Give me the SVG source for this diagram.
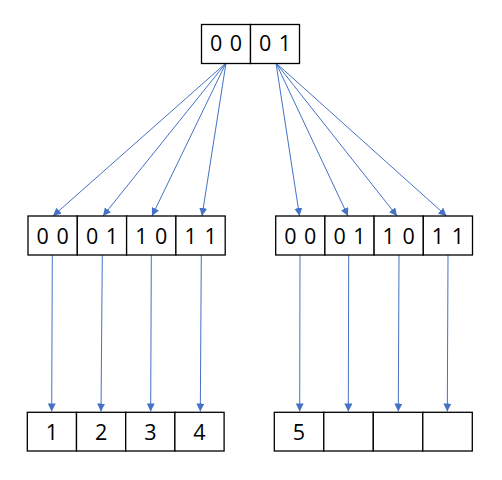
<svg xmlns="http://www.w3.org/2000/svg" width="502" height="480" viewBox="0 0 502 480">
<defs>
<marker id="ah" markerUnits="userSpaceOnUse" markerWidth="8" markerHeight="8" viewBox="0 0 8 8" refX="8" refY="4" orient="auto">
<path d="M0,0 L8,4 L0,8 Z" fill="#4472C4"/>
</marker>
<style>
.cell{fill:#fff;stroke:#000;stroke-width:1.3}
.t{font-family:"Open Sans","Liberation Sans",sans-serif;font-size:21.5px;text-anchor:middle;fill:#000;word-spacing:2px}
.c{stroke:#4472C4;stroke-width:1;fill:none;marker-end:url(#ah)}
</style>
</defs>
<rect width="502" height="480" fill="#fff"/>
<g id="connectors">
<line class="c" x1="226" y1="63" x2="53" y2="216"/>
<line class="c" x1="226" y1="63" x2="103" y2="216"/>
<line class="c" x1="226" y1="63" x2="152" y2="216"/>
<line class="c" x1="226" y1="63" x2="202" y2="216"/>
<line class="c" x1="276" y1="63" x2="299.5" y2="216"/>
<line class="c" x1="276" y1="63" x2="348" y2="216"/>
<line class="c" x1="276" y1="63" x2="397" y2="216"/>
<line class="c" x1="276" y1="63" x2="446.5" y2="216"/>
<line class="c" x1="52.3" y1="255" x2="51.7" y2="411.5"/>
<line class="c" x1="102.3" y1="255" x2="101" y2="411.5"/>
<line class="c" x1="151.3" y1="255" x2="150.7" y2="411.5"/>
<line class="c" x1="201.3" y1="255" x2="200.3" y2="411.5"/>
<line class="c" x1="300" y1="255" x2="299.7" y2="411.5"/>
<line class="c" x1="348.7" y1="255" x2="348.3" y2="411.5"/>
<line class="c" x1="399" y1="255" x2="398.3" y2="411.5"/>
<line class="c" x1="448" y1="255" x2="447.3" y2="411.5"/>
</g>
<g id="root">
<rect class="cell" x="201.5" y="24.5" width="49" height="39"/>
<rect class="cell" x="250.5" y="24.5" width="49" height="39"/>
<text class="t" x="226" y="50.5">0 0</text>
<text class="t" x="275" y="50.5">0 1</text>
</g>
<g id="left-dir">
<rect class="cell" x="28" y="216" width="49.3" height="39"/>
<rect class="cell" x="77.3" y="216" width="49.3" height="39"/>
<rect class="cell" x="126.6" y="216" width="49.3" height="39"/>
<rect class="cell" x="175.9" y="216" width="49.3" height="39"/>
<text class="t" x="52.6" y="243.5">0 0</text>
<text class="t" x="102" y="243.5">0 1</text>
<text class="t" x="151.3" y="243.5">1 0</text>
<text class="t" x="200.6" y="243.5">1 1</text>
</g>
<g id="right-dir">
<rect class="cell" x="275.7" y="216" width="49.2" height="39"/>
<rect class="cell" x="324.9" y="216" width="49.2" height="39"/>
<rect class="cell" x="374.1" y="216" width="49.2" height="39"/>
<rect class="cell" x="423.3" y="216" width="49.2" height="39"/>
<text class="t" x="300.3" y="243.5">0 0</text>
<text class="t" x="349.5" y="243.5">0 1</text>
<text class="t" x="398.7" y="243.5">1 0</text>
<text class="t" x="447.9" y="243.5">1 1</text>
</g>
<g id="left-buckets">
<rect class="cell" x="27.3" y="412.3" width="49.2" height="38.7"/>
<rect class="cell" x="76.5" y="412.3" width="49.2" height="38.7"/>
<rect class="cell" x="125.7" y="412.3" width="49.2" height="38.7"/>
<rect class="cell" x="174.9" y="412.3" width="49.2" height="38.7"/>
<text class="t" x="51.9" y="439.5">1</text>
<text class="t" x="101.1" y="439.5">2</text>
<text class="t" x="150.3" y="439.5">3</text>
<text class="t" x="199.5" y="439.5">4</text>
</g>
<g id="right-buckets">
<rect class="cell" x="274.3" y="412.3" width="49.5" height="38.7"/>
<rect class="cell" x="323.8" y="412.3" width="49.5" height="38.7"/>
<rect class="cell" x="373.3" y="412.3" width="49.5" height="38.7"/>
<rect class="cell" x="422.8" y="412.3" width="49.5" height="38.7"/>
<text class="t" x="299" y="439.5">5</text>
</g>
</svg>
